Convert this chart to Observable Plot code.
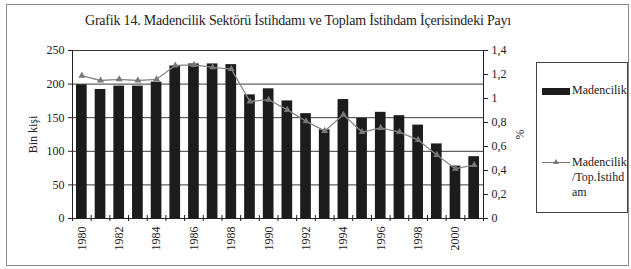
<!DOCTYPE html>
<html><head><meta charset="utf-8">
<script src="https://cdn.jsdelivr.net/npm/d3@7"></script>
<script src="https://cdn.jsdelivr.net/npm/@observablehq/plot@0.6"></script>
<style>
body{margin:0;background:#fff;font-family:"Liberation Serif",serif;}
#fig{position:relative;width:631px;height:269px;overflow:hidden;}
#frame{position:absolute;left:6px;top:4px;width:623px;height:262px;border:1px solid #8a8a8a;box-sizing:border-box;}
#title{position:absolute;left:0;width:596px;top:13px;text-align:center;font-size:14px;color:#222;white-space:nowrap;letter-spacing:-0.2px;}
#plot{position:absolute;left:0;top:0;}
#legend{position:absolute;left:536px;top:62px;width:92px;height:151px;border:1px solid #444;box-sizing:border-box;font-size:12px;color:#222;}
.sw{position:absolute;left:5px;top:25px;width:28px;height:7px;background:#1c1c1c;}
.t1{position:absolute;left:35px;top:20px;}
.ln{position:absolute;left:5px;top:99px;width:28px;height:1px;background:#777;}
.tri{position:absolute;left:16px;top:96px;width:0;height:0;border-left:3px solid transparent;border-right:3px solid transparent;border-bottom:5px solid #777;}
.t2{position:absolute;left:35px;top:92px;line-height:15px;}
</style></head>
<body>
<div id="fig">
  <div id="frame"></div>
  <div id="title"></div>
  <div id="plot"></div>
  <div id="legend">
    <div class="sw"></div><div class="t1" id="lg1"></div>
    <div class="ln"></div><div class="tri"></div><div class="t2" id="lg2"></div>
  </div>
</div>
<script>
const titleText = "Grafik 14.  Madencilik Sektörü İstihdamı ve Toplam İstihdam İçerisindeki Payı";
const years = [1980,1981,1982,1983,1984,1985,1986,1987,1988,1989,1990,1991,1992,1993,1994,1995,1996,1997,1998,1999,2000,2001];
const employment = [199,192,197,197,203,227,230,230,229,184,193,175,156,132,177,149,158,153,139,111,78,92];
const share = [1.19,1.15,1.16,1.15,1.16,1.275,1.28,1.26,1.245,0.975,0.99,0.905,0.81,0.73,0.865,0.72,0.755,0.72,0.655,0.53,0.415,0.445];
const leftTicks = [0,50,100,150,200,250];
const rightTicks = [0,0.2,0.4,0.6,0.8,1,1.2,1.4];
const rightTickLabels = ["0","0,2","0,4","0,6","0,8","1","1,2","1,4"];
const yearLabels = [1980,1982,1984,1986,1988,1990,1992,1994,1996,1998,2000];
const seriesNames = ["Madencilik", "Madencilik<br>/Top.İstihd<br>am"];
const yLabel = "Bin kişi";
const y2Label = "%";

document.getElementById("title").textContent = titleText;
document.getElementById("lg1").textContent = seriesNames[0];
document.getElementById("lg2").innerHTML = seriesNames[1];

const leftMax = 250, rightMax = 1.4;
const toLeft = v => v * leftMax / rightMax;
const data = years.map((y, i) => ({year: y, emp: employment[i], share: share[i]}));
const bounds = [...years.map(y => y - 0.5), years[years.length - 1] + 0.5];

const chart = Plot.plot({
  width: 631, height: 269,
  marginLeft: 72, marginRight: 148, marginTop: 50, marginBottom: 51,
  x: {domain: [years[0] - 0.5, years[years.length - 1] + 0.5]},
  y: {domain: [0, leftMax]},
  style: {fontFamily: "Liberation Serif", fontSize: "12px", color: "#222", background: "transparent"},
  marks: [
    Plot.ruleY(leftTicks, {stroke: "#3a3a3a", strokeWidth: 1}),
    Plot.rectY(data, {x1: d => d.year - 0.5, x2: d => d.year + 0.5, y: "emp", fill: "#1c1c1c", insetLeft: 4, insetRight: 4}),
    Plot.line(data, {x: "year", y: d => toLeft(d.share), stroke: "#8a8a8a", strokeWidth: 1.3}),
    Plot.dot(data, {x: "year", y: d => toLeft(d.share), symbol: "triangle", r: 2.6, fill: "#777", stroke: "none"}),
    Plot.ruleX([years[0] - 0.5, years[years.length - 1] + 0.5], {stroke: "#222"}),
    Plot.ruleY([0], {stroke: "#222"}),
    Plot.axisY(leftTicks, {anchor: "left", tickSize: 4, tickPadding: 4, label: yLabel, labelAnchor: "center", labelOffset: 44, labelArrow: "none"}),
    Plot.axisY(rightTicks.map(toLeft), {anchor: "right", tickSize: 4, tickPadding: 4, tickFormat: (d, i) => rightTickLabels[i], label: y2Label, labelAnchor: "center", labelOffset: 40, labelArrow: "none"}),
    Plot.axisX(bounds, {tickSize: 6, dy: -3, tickFormat: () => "", label: null}),
    Plot.axisX(yearLabels, {tickSize: 0, tickRotate: -90, tickPadding: 8, tickFormat: d => String(d), label: null})
  ]
});
document.getElementById("plot").appendChild(chart);
</script>
</body></html>
